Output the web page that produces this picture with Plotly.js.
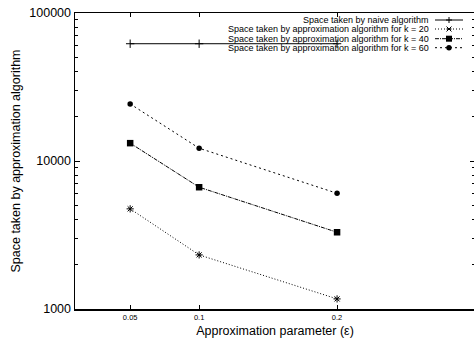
<!DOCTYPE html>
<html><head><meta charset="utf-8">
<script src="https://cdn.plot.ly/plotly-3.0.1.min.js"></script>
<style>html,body{margin:0;padding:0;overflow:hidden;background:#fff}#chart{width:476px;height:343px}</style>
</head><body><div id="chart"></div>
<script>
const eps = [0.05, 0.1, 0.2];
const epsLabels = ["0.05", "0.1", "0.2"];
const naive = [62000, 62000, 62000];
const k20 = [4750, 2320, 1170];
const k40 = [13200, 6650, 3300];
const k60 = [24300, 12200, 6050];
const seriesNames = [
  "Space taken by naive algorithm",
  "Space taken by approximation algorithm for k = 20",
  "Space taken by approximation algorithm for k = 40",
  "Space taken by approximation algorithm for k = 60"
];

const F = "Liberation Sans, Arial, Helvetica, sans-serif";
const styles = [
  {dash: "solid", symbol: "cross-thin-open", size: 6, lw: 1},
  {dash: "1px,2px", symbol: "asterisk-open", size: 6, lw: 1},
  {dash: "4px,1px,1px,1px", symbol: "square", size: 6.5, lw: 0},
  {dash: "2px,3px", symbol: "circle", size: 5.5, lw: 0}
];
const ys = [naive, k20, k40, k60];
const traces = ys.map((v, i) => ({
  x: eps, y: v, type: "scatter", mode: "lines+markers", name: seriesNames[i],
  line: {color: "black", width: 1, dash: styles[i].dash},
  marker: {color: "black", symbol: styles[i].symbol, size: styles[i].size,
           line: {color: "black", width: styles[i].lw}},
  showlegend: false
}));

// manual legend (text right aligned, sample to the right)
const L = 75, W = 400, T = 13, H = 296;
const px = x => (x - L) / W, py = y => (T + H - y) / H;
const rowsY = [20, 29, 38.7, 47.7];
const annotations = seriesNames.map((t, i) => ({
  text: t, xref: "paper", yref: "paper", x: px(431), y: py(rowsY[i]),
  xanchor: "right", yanchor: "middle", showarrow: false,
  font: {family: F, size: 9, color: "black"}
}));
const shapes = [];
rowsY.forEach((ry, i) => {
  shapes.push({type: "line", xref: "paper", yref: "paper", x0: px(435), x1: px(463), y0: py(ry), y1: py(ry),
    line: {color: "black", width: 1, dash: styles[i].dash}});
  const cx = px(449), cy = py(ry);
  const base = {xref: "paper", yref: "paper", xsizemode: "pixel", ysizemode: "pixel", xanchor: cx, yanchor: cy};
  if (i === 0) {
    shapes.push(Object.assign({type: "line", x0: -3, x1: 3, y0: 0, y1: 0, line: {color: "black", width: 1}}, base));
    shapes.push(Object.assign({type: "line", x0: 0, x1: 0, y0: -3, y1: 3, line: {color: "black", width: 1}}, base));
  } else if (i === 1) {
    shapes.push(Object.assign({type: "line", x0: -2.5, x1: 2.5, y0: -2.5, y1: 2.5, line: {color: "black", width: 1}}, base));
    shapes.push(Object.assign({type: "line", x0: -2.5, x1: 2.5, y0: 2.5, y1: -2.5, line: {color: "black", width: 1}}, base));
    shapes.push(Object.assign({type: "line", x0: -2.5, x1: 2.5, y0: 0, y1: 0, line: {color: "black", width: 1}}, base));
  } else if (i === 2) {
    shapes.push(Object.assign({type: "rect", x0: -3, x1: 3, y0: -3, y1: 3, fillcolor: "black", line: {width: 0}}, base));
  } else {
    shapes.push(Object.assign({type: "circle", x0: -2.7, x1: 2.7, y0: -2.7, y1: 2.7, fillcolor: "black", line: {width: 0}}, base));
  }
});

const layout = {
  width: 476, height: 343,
  margin: {l: 75, r: 1, t: 13, b: 34},
  paper_bgcolor: "white", plot_bgcolor: "white",
  font: {family: F, color: "black"},
  showlegend: false,
  xaxis: {
    range: [0.01, 0.3], tickvals: eps, ticktext: epsLabels,
    ticks: "inside", ticklen: 4, tickwidth: 1, tickcolor: "black",
    showline: true, linecolor: "black", linewidth: 1.5, mirror: "allticks",
    showgrid: false, zeroline: false,
    tickfont: {family: F, size: 7.5, color: "black"},
    title: {text: "Approximation parameter (ε)", font: {family: F, size: 12.5, color: "black"}, standoff: 5}
  },
  yaxis: {
    type: "log", range: [3, 5], dtick: 1, tickformat: "d",
    ticks: "inside", ticklen: 5, tickwidth: 1, tickcolor: "black",
    minor: {ticks: "inside", ticklen: 3, tickcolor: "black", showgrid: false},
    showline: true, linecolor: "black", linewidth: 1.5, mirror: "allticks",
    showgrid: false, zeroline: false,
    tickfont: {family: F, size: 12.5, color: "black"},
    title: {text: "Space taken by approximation algorithm", font: {family: F, size: 12.5, color: "black"}, standoff: 6}
  },
  annotations: annotations,
  shapes: shapes
};
Plotly.newPlot("chart", traces, layout, {staticPlot: true, displayModeBar: false});
</script></body></html>
